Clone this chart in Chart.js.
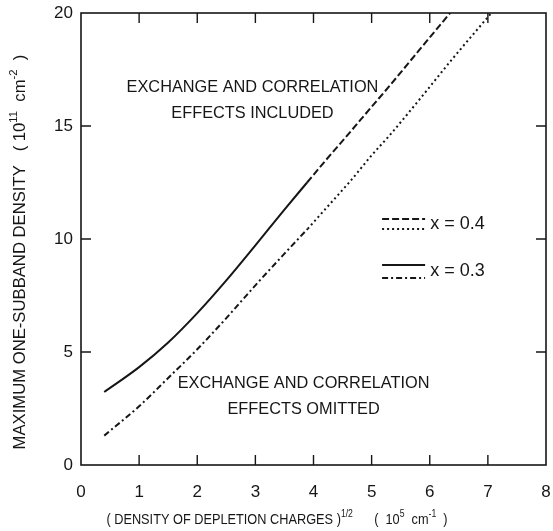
<!DOCTYPE html>
<html lang="en">
<head>
<meta charset="UTF-8">
<title>Maximum one-subband density</title>
<style>
  html, body { margin: 0; padding: 0; background: #fff; overflow: hidden; }
  canvas { display: block; }
</style>
</head>
<body>
<canvas id="chart" width="553" height="531"></canvas>
<script src="https://cdn.jsdelivr.net/npm/chart.js"></script>
<script>
// x = 0.3, exchange and correlation included (solid)
const inclX03 = [0.40, 1.0, 1.5, 2.0, 2.5, 3.0, 3.5, 3.89];
const inclY03 = [3.23, 4.33, 5.42, 6.72, 8.17, 9.72, 11.30, 12.50];
// x = 0.4, included (dashed) - runs on the solid curve below ~3.9
const inclX04 = [3.89, 4.2, 4.57, 5.0, 5.3, 5.8, 6.35];
const inclY04 = [12.50, 13.45, 14.55, 15.85, 16.75, 18.30, 20.0];
// x = 0.3, exchange and correlation omitted (dash-dot)
const omitX03 = [0.40, 1.0, 1.5, 2.0, 2.5, 3.0, 3.5, 3.9];
const omitY03 = [1.30, 2.60, 3.85, 5.12, 6.50, 7.95, 9.35, 10.45];
// x = 0.4, omitted (dotted)
const omitX04 = [3.9, 4.3, 4.63, 5.0, 5.32, 5.8, 6.4, 7.06];
const omitY04 = [10.45, 11.60, 12.55, 13.70, 14.62, 16.10, 18.00, 20.0];

// key samples (data units)
const keyX = [5.18, 5.92];
const keyY = [10.88, 10.44, 8.85, 8.27];
const keyLabels = ['x = 0.4', 'x = 0.3'];
const keyLabelPos = [[6.01, 10.66], [6.01, 8.58]];

const notesIncluded = ['EXCHANGE AND CORRELATION', 'EFFECTS INCLUDED'];
const notesIncludedPos = [[2.95, 16.77], [2.95, 15.62]];
const notesOmitted = ['EXCHANGE AND CORRELATION', 'EFFECTS OMITTED'];
const notesOmittedPos = [[3.83, 3.67], [3.83, 2.52]];

const xTicks = [0, 1, 2, 3, 4, 5, 6, 7, 8];
const yTicks = [0, 5, 10, 15, 20];

const FONT = "'Liberation Sans', Arial, Helvetica, sans-serif";
const INK = '#161616';

function pts(xs, ys) {
  return xs.map((x, i) => ({ x: x, y: ys[i] }));
}

function line(data, dash) {
  return {
    data: data,
    borderColor: INK,
    borderWidth: 2,
    borderDash: dash,
    pointRadius: 0,
    fill: false,
    cubicInterpolationMode: 'monotone'
  };
}

const DASH = [7, 3];
const DOT = [2, 3];
const DASHDOT = [6, 3, 2, 3];

function fontStr(size) {
  return size + 'px ' + FONT;
}

// text with superscript pieces, centred on (cx, cy), squeezed horizontally by sx
function drawRich(ctx, parts, cx, cy, size, sx, angle) {
  ctx.save();
  ctx.translate(cx, cy);
  ctx.rotate(angle || 0);
  ctx.scale(sx, 1);
  let w = 0;
  parts.forEach(p => {
    ctx.font = fontStr(p.sup ? size * 0.68 : size);
    w += ctx.measureText(p.t).width;
  });
  let x = -w / 2;
  const base = size * 0.358;
  ctx.fillStyle = INK;
  ctx.textAlign = 'left';
  ctx.textBaseline = 'alphabetic';
  parts.forEach(p => {
    ctx.font = fontStr(p.sup ? size * 0.68 : size);
    ctx.fillText(p.t, x, p.sup ? base - size * 0.5 : base);
    x += ctx.measureText(p.t).width;
  });
  ctx.restore();
}

const framePlugin = {
  id: 'frame',
  afterDraw(chart) {
    const ctx = chart.ctx;
    const a = chart.chartArea;
    const xs = chart.scales.x;
    const ys = chart.scales.y;
    ctx.save();
    ctx.strokeStyle = INK;
    ctx.lineWidth = 1.6;
    ctx.strokeRect(a.left, a.top, a.right - a.left, a.bottom - a.top);

    // inward tick marks on all four sides
    const tl = 10;
    ctx.lineWidth = 1.4;
    ctx.beginPath();
    xTicks.slice(1, -1).forEach(v => {
      const px = xs.getPixelForValue(v);
      ctx.moveTo(px, a.bottom); ctx.lineTo(px, a.bottom - tl);
      ctx.moveTo(px, a.top); ctx.lineTo(px, a.top + tl);
    });
    yTicks.slice(1, -1).forEach(v => {
      const py = ys.getPixelForValue(v);
      ctx.moveTo(a.left, py); ctx.lineTo(a.left + tl, py);
      ctx.moveTo(a.right, py); ctx.lineTo(a.right - tl, py);
    });
    ctx.stroke();

    // notes inside the plot
    notesIncluded.forEach((t, i) => {
      const p = notesIncludedPos[i];
      drawRich(ctx, [{ t: t }], xs.getPixelForValue(p[0]), ys.getPixelForValue(p[1]), 17, 0.96);
    });
    notesOmitted.forEach((t, i) => {
      const p = notesOmittedPos[i];
      drawRich(ctx, [{ t: t }], xs.getPixelForValue(p[0]), ys.getPixelForValue(p[1]), 17, 0.96);
    });

    // key labels
    ctx.fillStyle = INK;
    ctx.font = fontStr(18);
    ctx.textAlign = 'left';
    ctx.textBaseline = 'middle';
    keyLabels.forEach((t, i) => {
      const p = keyLabelPos[i];
      ctx.fillText(t, xs.getPixelForValue(p[0]), ys.getPixelForValue(p[1]));
    });

    // axis titles
    const xTitle = [
      { t: '( DENSITY OF DEPLETION CHARGES )' }, { t: '1/2', sup: true },
      { t: '      (  10' }, { t: '5', sup: true }, { t: '  cm' }, { t: '-1', sup: true }, { t: '  )' }
    ];
    drawRich(ctx, xTitle, 277, 519, 15, 0.85);
    const yTitle = [
      { t: 'MAXIMUM ONE-SUBBAND DENSITY   ( 10' }, { t: '11', sup: true },
      { t: '  cm' }, { t: '-2', sup: true }, { t: '  )' }
    ];
    drawRich(ctx, yTitle, 19, 252, 17, 0.98, -Math.PI / 2);
    ctx.restore();
  }
};

// keep the plot box fixed: drop the extra room Chart.js reserves for end labels
function noXPad(s) { s.height = 66; s.paddingLeft = 0; s.paddingRight = 0; }
function noYPad(s) { s.width = 81; s.paddingTop = 0; s.paddingBottom = 0; }

new Chart(document.getElementById('chart'), {
  type: 'line',
  data: {
    datasets: [
      line(pts(inclX03, inclY03), []),
      line(pts(inclX04, inclY04), DASH),
      line(pts(omitX03, omitY03), DASHDOT),
      line(pts(omitX04, omitY04), DOT),
      // key samples
      line(pts(keyX, [keyY[0], keyY[0]]), DASH),
      line(pts(keyX, [keyY[1], keyY[1]]), DOT),
      line(pts(keyX, [keyY[2], keyY[2]]), []),
      line(pts(keyX, [keyY[3], keyY[3]]), DASHDOT)
    ]
  },
  options: {
    responsive: false,
    animation: false,
    layout: { padding: { left: 0, top: 13, right: 7, bottom: 0 } },
    plugins: { legend: { display: false }, tooltip: { enabled: false } },
    scales: {
      x: {
        type: 'linear',
        min: 0, max: 8,
        afterFit: noXPad,
        afterBuildTicks: s => { s.ticks = xTicks.map(v => ({ value: v })); },
        grid: { drawOnChartArea: false, drawTicks: false },
        border: { display: false },
        ticks: { font: { family: FONT, size: 17 }, color: INK, padding: 17, maxRotation: 0 }
      },
      y: {
        min: 0, max: 20,
        afterFit: noYPad,
        afterBuildTicks: s => { s.ticks = yTicks.map(v => ({ value: v })); },
        grid: { drawOnChartArea: false, drawTicks: false },
        border: { display: false },
        ticks: { font: { family: FONT, size: 17 }, color: INK, padding: 8 }
      }
    }
  },
  plugins: [framePlugin]
});
</script>
</body>
</html>
